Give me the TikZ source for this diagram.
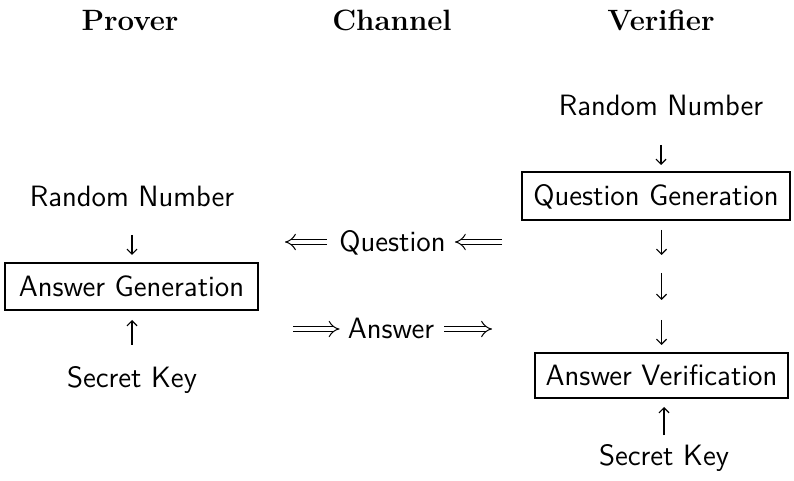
\documentclass[tikz,border=0pt]{standalone}
\usetikzlibrary{arrows.meta}
\begin{document}
\begin{tikzpicture}[x=0.5pt,y=-0.5pt,
  hdr/.style={font=\bfseries\fontsize{14.7}{17}\selectfont, inner sep=0pt, text height=10pt, text depth=0pt},
  txt/.style={font=\sffamily\fontsize{14.7}{17}\selectfont, inner sep=0pt, text height=10pt, text depth=0pt},
  boxs/.style={txt, draw, line width=0.75pt},
  arr/.style={line width=0.6pt, -{Straight Barb[length=2.5pt,width=5pt]}},
  dbl/.style={double, double distance=2.4pt, line width=0.5pt, -{Implies}}]
\useasboundingbox (0,0) rectangle (794,481);
% headers
\node[hdr] (hp) at (130,21) {Prover};
\node[hdr] (hc) at (392,21) {Channel};
\node[hdr] (hv) at (661,21) {Verifier};
% prover
\node[txt] (lrn) at (132,197) {Random Number};
\node[boxs, minimum width=126.5pt, minimum height=23.5pt] (lag) at (131.5,286.5) {Answer Generation};
\node[txt] (lsk) at (132,377) {Secret Key};
\draw[arr, shorten <=19pt, shorten >=15.75pt] (lrn.center) -- (lrn.center |- lag.center);
\draw[arr, shorten <=16pt, shorten >=16.75pt] (lsk.center) -- (lsk.center |- lag.center);
% verifier
\node[txt] (rrn) at (661,106) {Random Number};
\node[boxs, minimum width=134pt, minimum height=24pt] (rqg) at (656,196) {Question Generation};
\node[boxs, minimum width=126.5pt, minimum height=22.5pt] (rav) at (661.5,375.5) {Answer Verification};
\node[txt] (rsk) at (664,456) {Secret Key};
\draw[arr, shorten <=19.5pt, shorten >=15.5pt] (rrn.center) -- (rrn.center |- rqg.center);
\draw[arr, shorten <=17pt, shorten >=60.25pt] (rav.center |- rqg.center) -- (rav.center);
\draw[arr, shorten <=38.5pt, shorten >=37.75pt] (rav.center |- rqg.center) -- (rav.center);
\draw[arr, shorten <=62pt, shorten >=15.25pt] (rav.center |- rqg.center) -- (rav.center);
\draw[arr, shorten <=10.5pt, shorten >=15.75pt] (rsk.center) -- (rsk.center |- rav.center);
% channel
\node[txt] (q) at (392.5,242) {Question};
\node[txt] (a) at (391,329) {Answer};
\coordinate (qfrom) at (502,242);
\coordinate (qto) at (285,242);
\coordinate (afrom) at (293,329);
\coordinate (ato) at (492,329);
\draw[dbl, shorten >=4.5pt] (qfrom) -- (q);
\draw[dbl, shorten <=6pt] (q) -- (qto);
\draw[dbl, shorten >=4pt] (afrom) -- (a);
\draw[dbl, shorten <=5pt] (a) -- (ato);
\end{tikzpicture}
\end{document}
